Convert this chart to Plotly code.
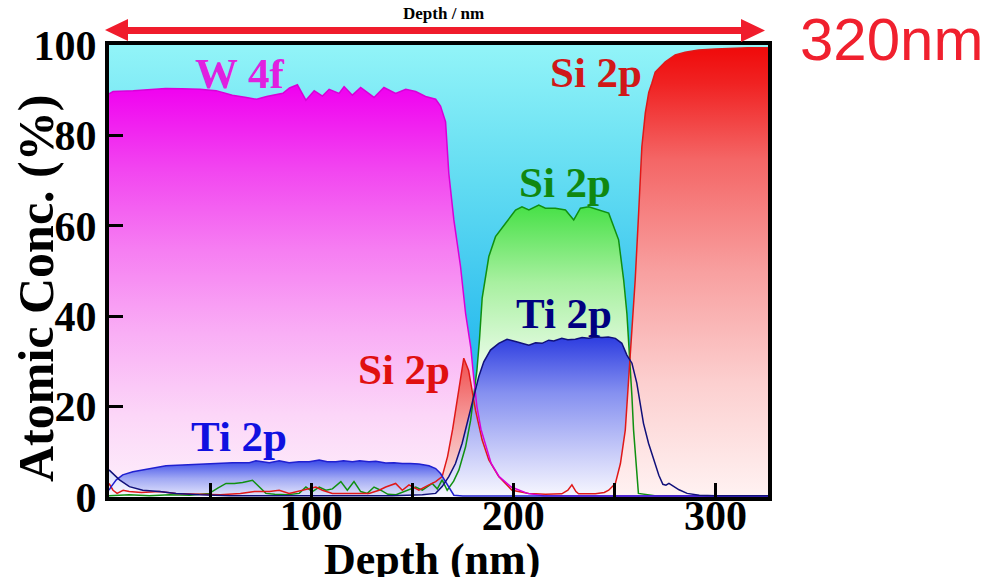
import plotly.graph_objects as go

# ---------------- data (depth in nm, atomic concentration in %) ----------------
w_depth = [0, 2, 12, 20, 28, 36, 45, 53, 61, 68, 73, 78, 86, 89.3, 93.2, 97.4, 101.5, 105.6, 108.9, 113.8,
           116.3, 120.4, 124.5, 131.1, 136.0, 141.8, 146.8, 151.7, 156.6, 161.6, 164.0, 166.5, 168.1, 170.6,
           173.9, 176.4, 179.0, 180.5, 182.0, 184.0, 186.5, 189.0, 193.0, 199.0, 207.0, 215.0, 240.0, 280.0, 326.0]
w_conc = [89.2, 89.7, 89.9, 90.2, 90.4, 90.3, 90.2, 89.9, 88.9, 88.4, 88.0, 88.6, 89.3, 90.5, 91.2, 87.8, 89.9,
          88.7, 90.2, 89.3, 90.8, 88.9, 90.6, 88.4, 90.6, 89.3, 90.2, 89.7, 88.6, 88.0, 86.5, 83.0, 71.6, 61.3,
          51.0, 40.6, 33.0, 26.0, 20.0, 15.0, 11.0, 7.5, 4.5, 2.2, 0.8, 0.3, 0.2, 0.2, 0.2]

si_depth = [0, 2, 4, 7, 10, 16, 25, 33, 45, 55, 65, 72, 79.3, 84.2, 89.1, 95.7, 102.3, 105.6, 110.5, 120.4,
            128.6, 133.6, 136.9, 141.8, 145.1, 148.4, 153.3, 158.3, 161.6, 164.8, 167.5, 170.0, 172.5, 174.6,
            175.5, 177.9, 179.5, 181.3, 184.6, 187.9, 192.8, 199.4, 207.7, 216.0, 224.0, 227.0, 229.0, 231.0,
            232.3, 240.6, 245.0, 247.2, 250.5, 253.0, 255.4, 257.0, 258.0, 259.0, 260.3, 262.0, 263.6, 265.3,
            267.0, 268.5, 270.2, 275.2, 280.1, 285.0, 291.6, 300.0, 308.0, 316.0, 326.0]
si_conc = [3.0, 1.5, 0.8, 1.5, 1.2, 1.0, 1.2, 0.8, 0.6, 0.5, 0.8, 1.2, 1.2, 1.5, 0.8, 1.5, 2.2, 1.5, 0.8, 0.8,
           0.8, 1.5, 2.2, 3.0, 1.5, 2.7, 1.5, 2.7, 3.4, 4.5, 9.0, 15.0, 22.0, 28.5, 30.7, 28.0, 24.0, 19.2,
           12.6, 8.2, 4.5, 1.5, 0.8, 0.6, 0.7, 1.5, 2.7, 1.2, 0.7, 0.7, 1.0, 1.5, 3.0, 7.4, 14.8, 25.9, 33.0,
           40.0, 48.0, 62.8, 77.5, 85.0, 89.5, 91.5, 94.0, 96.3, 97.8, 98.4, 98.9, 99.1, 99.3, 99.4, 99.4]

sil_depth = [0, 10, 20, 30, 40, 49.6, 54, 57.9, 62, 66.1, 71, 74.3, 77.6, 82, 88, 94.1, 97.4, 100.6, 104, 107.3,
             110.5, 114.7, 117.9, 121.2, 124.5, 127.8, 131.1, 134.4, 138, 142, 146, 151.7, 155, 159.9, 162.4,
             164.8, 167.3, 170.5, 173.1, 176.4, 178.9, 180.5, 182.0, 183.3, 184.6, 187.9, 191.2, 196.1, 201.1,
             204.3, 207.7, 212.6, 215.9, 220.8, 225.8, 229.9, 233.2, 237.3, 242.2, 247.2, 252.1, 254.6, 256.2,
             257.0, 257.9, 258.7, 259.5, 260.6, 261.9, 270, 326]
sil_conc = [0.3, 0.5, 0.3, 0.5, 0.4, 0.8, 2.0, 3.0, 3.0, 3.2, 3.7, 2.2, 0.8, 0.6, 0.5, 0.8, 2.2, 1.2, 2.2, 1.5,
            1.8, 3.4, 1.5, 3.4, 1.2, 0.8, 2.2, 1.5, 0.6, 0.5, 1.2, 2.2, 1.5, 3.0, 1.8, 3.8, 1.5, 3.5, 6.0, 11.1,
            17.0, 22.2, 28.0, 35.0, 44.0, 53.2, 57.6, 60.5, 63.5, 64.2, 63.5, 64.6, 63.9, 63.9, 63.5, 61.3, 63.9,
            64.2, 63.5, 62.8, 56.9, 48.0, 40.6, 35.0, 29.6, 22.2, 14.8, 7.4, 0.8, 0.3, 0.3]

tib_depth = [0, 2, 5.2, 10.1, 16.7, 24.9, 33.2, 44.7, 60, 100, 140, 155, 161.6, 164.8, 168.1, 171.4, 174.7,
             178.0, 180.5, 182.9, 185.4, 188.7, 192.8, 196.9, 201.1, 204.3, 207.7, 211.0, 214.2, 217.5, 220.0,
             224.0, 227.0, 230.7, 234.0, 237.3, 240.5, 243.9, 247.0, 250.5, 253.7, 256.2, 258.7, 261.1, 262.7,
             264.4, 266.9, 269.4, 272.0, 274.0, 275.5, 277.0, 279.0, 282.0, 286.0, 292.0, 300.0, 326.0]
tib_conc = [6.0, 5.2, 3.8, 2.3, 1.5, 1.2, 0.8, 0.5, 0.3, 0.3, 0.3, 0.5, 0.8, 2.3, 4.5, 7.4, 11.9, 17.8, 22.2,
            26.6, 29.9, 32.5, 34.0, 34.9, 34.4, 34.0, 33.6, 34.1, 34.0, 34.7, 34.5, 35.1, 34.8, 34.9, 35.3, 35.1,
            35.4, 35.3, 35.4, 35.1, 34.0, 31.4, 29.6, 25.2, 20.7, 16.3, 11.9, 8.2, 4.8, 2.8, 2.6, 3.0, 2.4, 1.6,
            0.8, 0.4, 0.3, 0.3]

tia_depth = [0, 1.1, 3.6, 6.8, 11.8, 20, 28.2, 36.4, 44.7, 52.9, 61.1, 69.4, 72.7, 79.3, 84.2, 89.1, 94, 99,
             104, 108, 112.2, 116, 120.4, 124, 128.6, 132, 136.9, 141, 145.1, 149, 153.3, 158.3, 161.6, 164,
             166.5, 169, 170.6, 175, 200, 326]
tia_conc = [1.5, 2.3, 3.8, 4.9, 5.6, 6.3, 6.9, 7.1, 7.3, 7.4, 7.6, 7.6, 8.0, 7.6, 8.0, 7.6, 7.8, 7.8, 8.2, 7.8,
            7.8, 8.0, 7.8, 8.0, 7.8, 7.9, 7.5, 7.6, 7.4, 7.4, 7.3, 6.9, 6.3, 5.2, 3.4, 1.5, 0.4, 0.2, 0.2, 0.2]

x_range = [0, 326]
y_range = [0, 100]
x_tick_vals = [50, 100, 150, 200, 250, 300]
x_tick_text = ["", "100", "", "200", "", "300"]
y_tick_vals = [0, 20, 40, 60, 80, 100]

# ---------------- figure ----------------
W, H = 991, 577
ML, MR, MT, MB = 109, 223, 45, 80
PW, PH = W - ML - MR, H - MT - MB


def px2paper(px, py):
    return (px - ML) / PW, (H - MB - py) / PH


SERIF = "Liberation Serif, Times New Roman, serif"

fig = go.Figure()


def fill(x, y, scale, start, stop):
    fig.add_trace(go.Scatter(x=x, y=y, mode="lines", line=dict(width=0), fill="tozeroy",
                             fillgradient=dict(type="vertical", colorscale=scale, start=start, stop=stop),
                             hoverinfo="skip", showlegend=False))


# background gradient (cyan)
fill(x_range, [y_range[1], y_range[1]],
     [[0, "#1eaeea"], [0.35, "#2dbdee"], [0.7, "#62dcf2"], [1, "#92f4f8"]], 0, 100)
# W 4f
fill(w_depth, w_conc,
     [[0, "#fdf0fb"], [0.2, "#fcd6f8"], [0.4, "#f9aef5"], [0.6, "#f67ef2"], [0.8, "#f244f0"],
      [1, "#f000f0"]], 0, 91)
# Si 2p silicide (green)
fill(sil_depth, sil_conc, [[0, "#e6fbe4"], [0.5, "#a8f0a0"], [1, "#44e044"]], 30, 65)
# Si 2p (red) split: interface peak and substrate
k = next(i for i, v in enumerate(si_depth) if v >= 245)
fill(si_depth[:k + 1], si_conc[:k + 1], [[0, "#fdeaea"], [0.5, "#f6a4a4"], [1, "#f04c4c"]], 0, 31)
# Ti 2p (left, blue)
fill(tia_depth, tia_conc, [[0, "#e6e8fc"], [0.5, "#a0a8f4"], [1, "#3848e8"]], 0, 8.2)
# Ti 2p (silicide, navy)
fill(tib_depth, tib_conc, [[0, "#f8f8ff"], [0.3, "#c4c8f8"], [0.65, "#8590f0"], [1, "#2c3ce0"]], 0, 35.5)
# Si substrate
fill(si_depth[k:], si_conc[k:],
     [[0, "#fff2f2"], [0.25, "#fcd0d0"], [0.5, "#f8a0a0"], [0.75, "#f46666"], [0.92, "#f02222"],
      [1, "#f00a0a"]], 0, 99.5)

# lines on top
for x, y, c in [(sil_depth, sil_conc, "#109010"), (si_depth, si_conc, "#e01818"),
                (w_depth, w_conc, "#d800d8"), (tia_depth, tia_conc, "#2020d0"),
                (tib_depth, tib_conc, "#10107a")]:
    fig.add_trace(go.Scatter(x=x, y=y, mode="lines", line=dict(color=c, width=1.5),
                             hoverinfo="skip", showlegend=False))

# series labels
labels = [
    ("W 4f", 64.4, 93.8, "#e020e0"),
    ("Si 2p", 240.7, 94.0, "#d01818"),
    ("Si 2p", 225.4, 69.5, "#108810"),
    ("Ti 2p", 224.9, 40.7, "#000080"),
    ("Si 2p", 145.9, 28.1, "#e01010"),
    ("Ti 2p", 64.4, 13.3, "#1010e0"),
]
for t, x, y, c in labels:
    fig.add_annotation(x=x, y=y, text=t, showarrow=False, xanchor="center", yanchor="middle",
                       font=dict(family=SERIF, size=43, color=c, weight="bold"))

# axis titles
xp, yp = px2paper(36, 289)
fig.add_annotation(x=xp, y=yp, xref="paper", yref="paper", text="Atomic Conc. (%)", textangle=-90,
                   showarrow=False, xanchor="center", yanchor="middle",
                   font=dict(family=SERIF, size=50, color="black", weight="bold"))
xp, yp = px2paper(432, 559)
fig.add_annotation(x=xp, y=yp, xref="paper", yref="paper", text="Depth (nm)",
                   showarrow=False, xanchor="center", yanchor="middle",
                   font=dict(family=SERIF, size=44, color="black", weight="bold"))
xp, yp = px2paper(443, 14)
fig.add_annotation(x=xp, y=yp, xref="paper", yref="paper", text="Depth / nm",
                   showarrow=False, xanchor="center", yanchor="middle",
                   font=dict(family=SERIF, size=17, color="black", weight="bold"))
xp, yp = px2paper(891, 40)
fig.add_annotation(x=xp, y=yp, xref="paper", yref="paper", text="320nm",
                   showarrow=False, xanchor="center", yanchor="middle",
                   font=dict(family="Liberation Sans, Arial, sans-serif", size=60, color="#f0202e"))

# double-headed red arrow
pts = [(105, 30), (128, 19), (128, 27), (741, 27), (741, 19), (765, 30.5), (741, 42), (741, 34),
       (128, 34), (128, 41)]
path = "M " + " L ".join("%.5f,%.5f" % px2paper(a, b) for a, b in pts) + " Z"
fig.add_shape(type="path", path=path, xref="paper", yref="paper", fillcolor="#f01c2c",
              line=dict(width=0), layer="above")

axis_common = dict(showline=True, linewidth=4, linecolor="black", mirror=True, showgrid=False,
                   zeroline=False, ticks="inside", tickcolor="black", tickwidth=2.5, ticklen=14,
                   tickfont=dict(family=SERIF, size=42, color="black", weight="bold"))
fig.update_layout(
    width=W, height=H, margin=dict(l=ML, r=MR, t=MT, b=MB),
    paper_bgcolor="white", plot_bgcolor="white",
    xaxis=dict(range=x_range, tickmode="array", tickvals=x_tick_vals, ticktext=x_tick_text,
               ticklabelstandoff=-21, **axis_common),
    yaxis=dict(range=y_range, tickmode="array", tickvals=y_tick_vals,
               ticktext=[str(v) for v in y_tick_vals], **axis_common),
)
fig.write_html("out.html")
